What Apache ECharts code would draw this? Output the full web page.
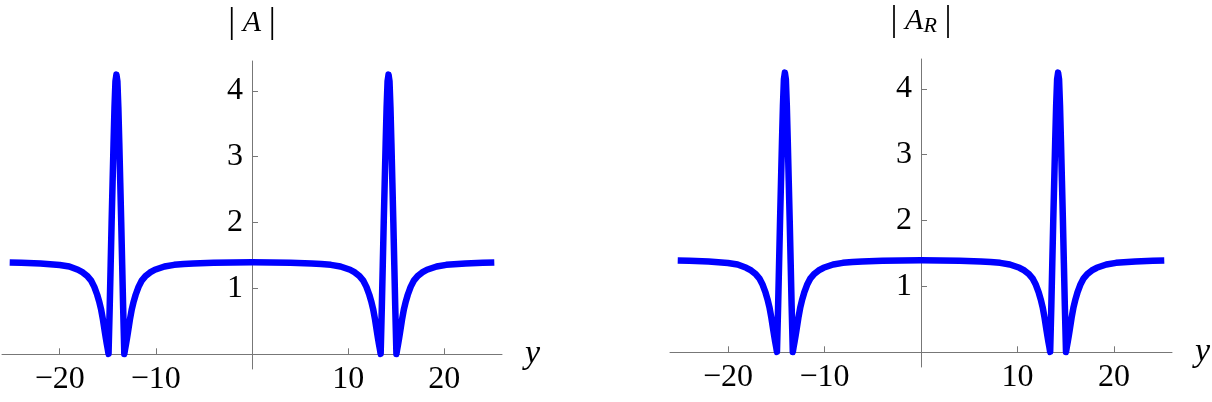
<!DOCTYPE html>
<html>
<head>
<meta charset="utf-8">
<script src="https://cdn.jsdelivr.net/npm/echarts@6/dist/echarts.min.js"></script>
<style>
html,body{margin:0;padding:0;background:#fff;}
#c{width:1212px;height:402px;}
</style>
</head>
<body>
<div id="c"></div>
<script>
// sample positions along y
const xs = [-25.2, -24, -22, -20, -19, -18.1, -17.6, -17.1, -16.75, -16.4, -16.1, -15.9, -15.7, -15.5, -15.3, -15.2, -15.1, -15.0,
  -14.92, -14.8, -14.7, -14.6, -14.5, -14.4, -14.3, -14.2, -14.1, -14.0, -13.9, -13.8, -13.7, -13.6, -13.5, -13.4, -13.28,
  -13.2, -13.1, -13.0, -12.9, -12.7, -12.5, -12.3, -12.1, -11.8, -11.45, -11.1, -10.6, -10.1, -9.1, -8.1, -7.1, -6.1, -4, -2, 0,
  2, 4, 6.2, 7.2, 8.2, 9.2, 10.2, 10.7, 11.2, 11.55, 11.9, 12.2, 12.4, 12.6, 12.8, 13.0, 13.1, 13.2, 13.3,
  13.38, 13.5, 13.6, 13.7, 13.8, 13.9, 14.0, 14.1, 14.2, 14.3, 14.4, 14.5, 14.6, 14.7, 14.8, 14.9, 15.02,
  15.1, 15.2, 15.3, 15.4, 15.6, 15.8, 16.0, 16.2, 16.5, 16.85, 17.2, 17.7, 18.2, 19.2, 20.2, 22.2, 24, 25.2];
// |A| values
const yA = [1.39, 1.386, 1.376, 1.353, 1.33, 1.28, 1.24, 1.18, 1.12, 1.02, 0.9, 0.8, 0.68, 0.52, 0.33, 0.24, 0.15, 0.07,
  0, 0.7, 1.35, 2.0, 2.6, 3.2, 3.75, 4.15, 4.25, 4.15, 3.75, 3.2, 2.6, 2.0, 1.35, 0.7, 0,
  0.07, 0.15, 0.24, 0.33, 0.52, 0.68, 0.8, 0.9, 1.02, 1.12, 1.18, 1.24, 1.28, 1.33, 1.355, 1.368, 1.377, 1.386, 1.392, 1.395,
  1.392, 1.386, 1.377, 1.368, 1.355, 1.33, 1.28, 1.24, 1.18, 1.12, 1.02, 0.9, 0.8, 0.68, 0.52, 0.33, 0.24, 0.15, 0.07,
  0, 0.7, 1.35, 2.0, 2.6, 3.2, 3.75, 4.15, 4.25, 4.15, 3.75, 3.2, 2.6, 2.0, 1.35, 0.7, 0,
  0.07, 0.15, 0.24, 0.33, 0.52, 0.68, 0.8, 0.9, 1.02, 1.12, 1.18, 1.24, 1.28, 1.33, 1.355, 1.377, 1.385, 1.39];
// |A_R| values
const yAR = [1.39, 1.386, 1.376, 1.353, 1.33, 1.28, 1.24, 1.18, 1.12, 1.02, 0.9, 0.8, 0.68, 0.52, 0.33, 0.24, 0.15, 0.07,
  0, 0.7, 1.35, 2.0, 2.6, 3.2, 3.75, 4.15, 4.25, 4.15, 3.75, 3.2, 2.6, 2.0, 1.35, 0.7, 0,
  0.07, 0.15, 0.24, 0.33, 0.52, 0.68, 0.8, 0.9, 1.02, 1.12, 1.18, 1.24, 1.28, 1.33, 1.355, 1.368, 1.377, 1.386, 1.392, 1.395,
  1.392, 1.386, 1.377, 1.368, 1.355, 1.33, 1.28, 1.24, 1.18, 1.12, 1.02, 0.9, 0.8, 0.68, 0.52, 0.33, 0.24, 0.15, 0.07,
  0, 0.7, 1.35, 2.0, 2.6, 3.2, 3.75, 4.15, 4.25, 4.15, 3.75, 3.2, 2.6, 2.0, 1.35, 0.7, 0,
  0.07, 0.15, 0.24, 0.33, 0.52, 0.68, 0.8, 0.9, 1.02, 1.12, 1.18, 1.24, 1.28, 1.33, 1.355, 1.377, 1.385, 1.39];
const xTicks = [-20, -10, 10, 20];
const yTicks = [1, 2, 3, 4];

const FONT = "'Liberation Serif', 'Times New Roman', serif";
const AX = '#777';
const XMIN = -26, XMAX = 26, YMIN = -0.23, YMAX = 4.457;

function hiddenX(g) { return { type: 'value', gridIndex: g, min: XMIN, max: XMAX, show: false }; }
function hiddenY(g) { return { type: 'value', gridIndex: g, min: YMIN, max: YMAX, show: false }; }

function visX(g) {
  return {
    type: 'value', gridIndex: g, min: XMIN, max: XMAX, position: 'bottom',
    axisLine: { onZero: false, lineStyle: { color: AX, width: 1 } },
    axisTick: { inside: true, length: 6, customValues: xTicks, lineStyle: { color: AX } },
    axisLabel: { customValues: xTicks, formatter: v => String(v).replace('-', '\u2212'),
      fontFamily: FONT, fontSize: 32, color: '#000', margin: 9 },
    splitLine: { show: false },
    name: 'y', nameLocation: 'end', nameGap: 23,
    nameTextStyle: { fontFamily: FONT, fontStyle: 'italic', fontSize: 34, color: '#000', padding: [0, 0, 6, 0] }
  };
}
function visY(g, name) {
  return {
    type: 'value', gridIndex: g, min: YMIN, max: YMAX, position: 'left',
    axisLine: { onZero: false, lineStyle: { color: AX, width: 1 } },
    axisTick: { inside: true, length: 6, customValues: yTicks, lineStyle: { color: AX } },
    axisLabel: { customValues: yTicks, fontFamily: FONT, fontSize: 32, color: '#000', margin: 9 },
    splitLine: { show: false },
    name: name, nameLocation: 'end', nameGap: 18,
    nameTextStyle: {
      align: 'center',
      rich: {
        b: { fontFamily: FONT, fontSize: 35, color: '#000', lineHeight: 40 },
        a: { fontFamily: FONT, fontStyle: 'italic', fontSize: 30, color: '#000', lineHeight: 40 },
        s: { fontFamily: FONT, fontStyle: 'italic', fontSize: 22, color: '#000', lineHeight: 30, padding: [10, 0, 0, 0] }
      }
    }
  };
}

// left panel: data area x 2..502 (y=0 at 252), y-axis zero at 354.3
// right panel: data area x 670..1172 (y=0 at 921), zero at 352.3
const grids = [
  { left: 2, top: 61, width: 500, height: 308 },      // 0 data left
  { left: 2, top: 61, width: 500, height: 293.3 },    // 1 x-axis left
  { left: 252, top: 61, width: 250, height: 308 },    // 2 y-axis left
  { left: 670, top: 59, width: 502, height: 308 },    // 3 data right
  { left: 670, top: 59, width: 502, height: 293.3 },  // 4 x-axis right
  { left: 921, top: 59, width: 251, height: 308 }     // 5 y-axis right
].map(g => Object.assign(g, { outerBoundsMode: 'none', containLabel: false }));

const chart = echarts.init(document.getElementById('c'), null, { renderer: 'canvas' });
chart.setOption({
  animation: false,
  backgroundColor: '#fff',
  grid: grids,
  xAxis: [hiddenX(0), visX(1), hiddenX(2), hiddenX(3), visX(4), hiddenX(5)],
  yAxis: [hiddenY(0), hiddenY(1), visY(2, '{b||}{a| A }{b||}'), hiddenY(3), hiddenY(4), visY(5, '{b||}{a| A}{s|R}{a| }{b||}')],
  series: [
    { type: 'line', xAxisIndex: 0, yAxisIndex: 0, symbol: 'none', clip: true,
      lineStyle: { color: '#0000ff', width: 6.5, join: 'round' },
      data: xs.map((x, i) => [x, yA[i]]) },
    { type: 'line', xAxisIndex: 3, yAxisIndex: 3, symbol: 'none', clip: true,
      lineStyle: { color: '#0000ff', width: 6.5, join: 'round' },
      data: xs.map((x, i) => [x, yAR[i]]) }
  ]
});
</script>
</body>
</html>
